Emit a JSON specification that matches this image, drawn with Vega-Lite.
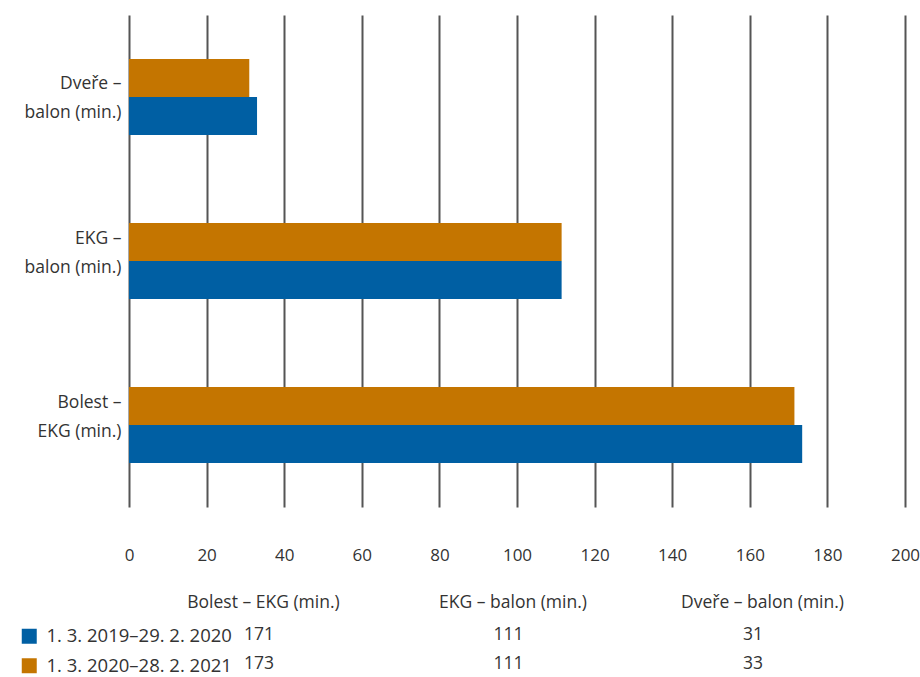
{
  "$schema": "https://vega.github.io/schema/vega-lite/v6.json",
  "background": "white",
  "padding": {"left": 20, "top": 15, "right": 0, "bottom": 0},
  "config": {"font": "Open Sans", "view": {"stroke": null}},
  "datasets": {
    "bars": [
      {"measure": "Dveře – balon (min.)", "period": "1. 3. 2019–29. 2. 2020", "minutes": 33},
      {"measure": "Dveře – balon (min.)", "period": "1. 3. 2020–28. 2. 2021", "minutes": 31},
      {"measure": "EKG – balon (min.)", "period": "1. 3. 2019–29. 2. 2020", "minutes": 111.5},
      {"measure": "EKG – balon (min.)", "period": "1. 3. 2020–28. 2. 2021", "minutes": 111.5},
      {"measure": "Bolest – EKG (min.)", "period": "1. 3. 2019–29. 2. 2020", "minutes": 173.5},
      {"measure": "Bolest – EKG (min.)", "period": "1. 3. 2020–28. 2. 2021", "minutes": 171.5}
    ],
    "table": [
      {"period": "1. 3. 2019–29. 2. 2020", "measure": "Bolest – EKG (min.)", "minutes": 171},
      {"period": "1. 3. 2019–29. 2. 2020", "measure": "EKG – balon (min.)", "minutes": 111},
      {"period": "1. 3. 2019–29. 2. 2020", "measure": "Dveře – balon (min.)", "minutes": 31},
      {"period": "1. 3. 2020–28. 2. 2021", "measure": "Bolest – EKG (min.)", "minutes": 173},
      {"period": "1. 3. 2020–28. 2. 2021", "measure": "EKG – balon (min.)", "minutes": 111},
      {"period": "1. 3. 2020–28. 2. 2021", "measure": "Dveře – balon (min.)", "minutes": 33}
    ]
  },
  "resolve": {"scale": {"color": "independent", "x": "independent", "y": "independent"}},
  "spacing": 30,
  "vconcat": [
    {
      "width": 776,
      "height": 492,
      "data": {"name": "bars"},
      "mark": {"type": "bar"},
      "encoding": {
        "y": {
          "field": "measure", "type": "nominal",
          "sort": ["Dveře – balon (min.)", "EKG – balon (min.)", "Bolest – EKG (min.)"],
          "scale": {"paddingInner": 0.537, "paddingOuter": 0.268},
          "axis": {
            "title": null, "domain": false, "ticks": false, "labelPadding": 8,
            "labelFontSize": 17.5, "labelColor": "#333333", "labelLineHeight": 29,
            "labelLimit": 200,
            "labelOffset": {"condition": {"test": "datum.value === 'Dveře – balon (min.)'", "value": -13}, "value": -22},
            "labelExpr": "[slice(datum.label, 0, indexof(datum.label, '–') + 1), slice(datum.label, indexof(datum.label, '–') + 2)]"
          }
        },
        "x": {
          "field": "minutes", "type": "quantitative",
          "scale": {"domain": [0, 200], "nice": false},
          "axis": {
            "title": null, "values": [0, 20, 40, 60, 80, 100, 120, 140, 160, 180, 200],
            "domain": false, "ticks": false, "grid": true, "gridColor": "#555555", "gridWidth": 2,
            "labelPadding": 40, "labelFontSize": 17, "labelColor": "#333333", "labelFlush": false
          }
        },
        "yOffset": {
          "field": "period", "type": "nominal",
          "sort": ["1. 3. 2020–28. 2. 2021", "1. 3. 2019–29. 2. 2020"],
          "scale": {"paddingInner": 0, "paddingOuter": 0}
        },
        "color": {
          "field": "period", "type": "nominal",
          "scale": {"domain": ["1. 3. 2019–29. 2. 2020", "1. 3. 2020–28. 2. 2021"], "range": ["#005FA3", "#C47500"]},
          "legend": null
        }
      }
    },
    {
      "width": 767,
      "height": 45,
      "data": {"name": "table"},
      "encoding": {
        "x": {
          "field": "measure", "type": "nominal",
          "sort": ["Bolest – EKG (min.)", "EKG – balon (min.)", "Dveře – balon (min.)"],
          "scale": {"type": "point", "padding": 0.537},
          "axis": {
            "orient": "top", "title": null, "domain": false, "ticks": false, "labelAngle": 0,
            "labelPadding": 16, "labelFontSize": 17.5, "labelColor": "#333333", "labelLimit": 300
          }
        },
        "y": {
          "field": "period", "type": "nominal",
          "sort": ["1. 3. 2019–29. 2. 2020", "1. 3. 2020–28. 2. 2021"],
          "scale": {"type": "point", "padding": 0.276},
          "axis": null
        }
      },
      "layer": [
        {
          "mark": {"type": "text", "align": "left", "dx": -19, "fontSize": 17.5, "color": "#333333"},
          "encoding": {"text": {"field": "minutes", "type": "quantitative"}}
        },
        {
          "mark": {"type": "square", "size": 0, "filled": true, "opacity": 1},
          "encoding": {
            "color": {
              "field": "period", "type": "nominal",
              "scale": {"domain": ["1. 3. 2019–29. 2. 2020", "1. 3. 2020–28. 2. 2021"], "range": ["#005FA3", "#C47500"]},
              "legend": {
                "orient": "left", "title": null, "symbolType": "square", "symbolSize": 225,
                "symbolStrokeWidth": 0, "symbolOpacity": 1, "labelFontSize": 18.5, "labelColor": "#333333",
                "labelOffset": 8, "rowPadding": 10.5, "offset": -103, "padding": 0, "labelLimit": 300
              }
            }
          }
        }
      ]
    }
  ]
}
